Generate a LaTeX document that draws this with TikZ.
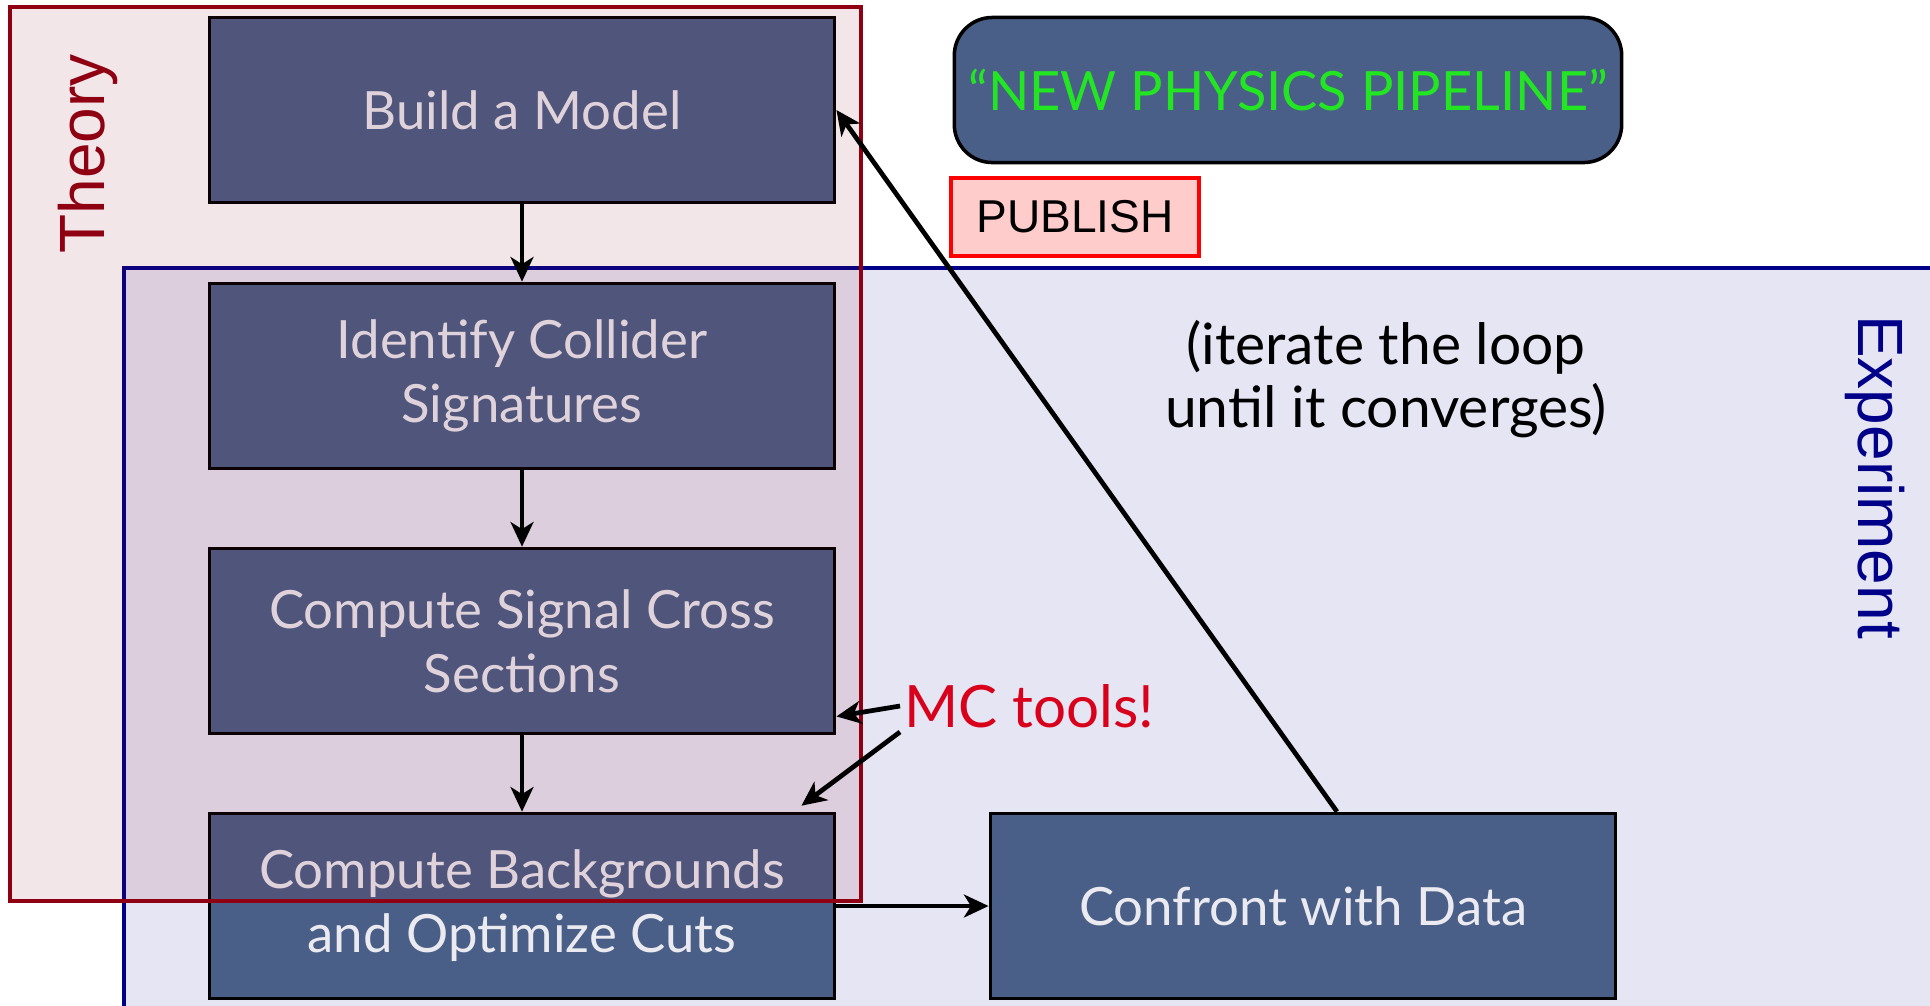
\documentclass[tikz,border=0pt]{standalone}
\usepackage{fontspec}
\setmainfont{Lato}
\newfontfamily\arialfont{Liberation Sans}
\usetikzlibrary{arrows.meta,calc}

\definecolor{boxblue}{HTML}{4A5F88}
\definecolor{boxtext}{HTML}{EAEAF0}
\definecolor{pipegreen}{HTML}{22E622}
\definecolor{theoryred}{HTML}{8E0012}
\definecolor{theoryfill}{RGB}{135,5,25}
\definecolor{exptblue}{HTML}{000088}
\definecolor{mcred}{HTML}{D8001A}
\definecolor{publishpink}{HTML}{FFCCCC}

\tikzset{
  stepbox/.style={draw=black, line width=1pt, fill=boxblue, text=boxtext,
    minimum width=6.25cm, minimum height=1.85cm, align=center, inner sep=0pt,
    font=\fontsize{15}{18.2}\selectfont},
  flow/.style={-{Stealth[length=7pt,width=6.5pt,inset=2pt]}, line width=1.35pt},
  regionlabel/.style={font=\arialfont\fontsize{18.2}{20}\selectfont},
}

\begin{document}
\begin{tikzpicture}[x=0.01cm,y=-0.01cm]
\useasboundingbox (0,0) rectangle (1930,1005);

% experiment side, behind the steps
\fill[exptblue, fill opacity=0.1] (124,268) rectangle (1940,1015);
\draw[exptblue, line width=1.1pt] (1940,268) -- (124,268) -- (124,1015);
\node[regionlabel, rotate=-90, text=exptblue] (expt) at (1875,477) {Experiment};

% the steps of the loop
\node[stepbox] (model) at (522,110) {Build a Model};
\node[stepbox] (collider) at (522,376) {Identify Collider\\Signatures};
\node[stepbox] (signal) at (522,641) {Compute Signal Cross\\Sections};
\node[stepbox] (backgr) at (522,906) {Compute Backgrounds\\and Optimize Cuts};
\node[stepbox] (data) at (1303,906) {Confront with Data};

\node[stepbox, rounded corners=0.38cm, minimum width=6.67cm, minimum height=1.45cm,
  text=pipegreen, font=\fontsize{15.4}{18}\selectfont] (pipeline) at (1288,90)
  {“NEW PHYSICS PIPELINE”};
\node[draw=red, fill=publishpink, line width=1pt, minimum width=2.48cm,
  minimum height=0.78cm, font=\arialfont\fontsize{13.1}{15}\selectfont] (publish)
  at (1075,217) {PUBLISH};

\node[align=center, font=\fontsize{16.2}{17.8}\selectfont] (note) at (1386,379)
  {(iterate the loop\\until it converges)};
\node[anchor=west, inner sep=1pt, text=mcred, font=\fontsize{16.6}{18}\selectfont]
  (mc) at (900,706) {MC tools!};

% theory side, laid over the steps
\fill[theoryfill, fill opacity=0.1] (10,7) rectangle (861,901);
\draw[theoryred, line width=1.1pt] (10,7) rectangle (861,901);
\node[regionlabel, rotate=90, text=theoryred] (theory) at (88,154) {Theory};

% connectors
\draw[flow] (model.south) -- (collider.north);
\draw[flow] (collider.south) -- (signal.north);
\draw[flow] (signal.south) -- (backgr.north);
\draw[flow] (backgr.east) -- (data.west);
\draw[flow] ($(data.north)+(34,0)$) -- (model.east);
\draw[flow] (mc.west) -- ($(signal.south east)!0.1!(signal.north east)$);
\draw[flow] (mc.south west) -- ($(backgr.north east)+(-35,-6)$);
\end{tikzpicture}
\end{document}
